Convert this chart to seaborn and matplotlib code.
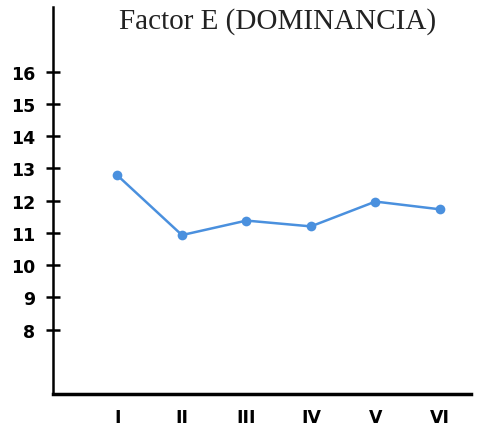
import matplotlib
matplotlib.use("Agg")
import matplotlib.pyplot as plt
import seaborn as sns
import pandas as pd

# Values
groups = ["I", "II", "III", "IV", "V", "VI"]
scores = [12.78, 10.93, 11.38, 11.2, 11.97, 11.73]
y_ticks = [8, 9, 10, 11, 12, 13, 14, 15, 16]

df = pd.DataFrame({"pos": range(1, len(groups) + 1), "group": groups, "score": scores})

sns.set_style("white")
plt.rcParams["font.family"] = ["DejaVu Sans"]

fig = plt.figure(figsize=(4.79, 4.31), dpi=100)
ax = fig.add_axes([0.1106, 0.0835, 0.8724, 0.8975])

sns.lineplot(data=df, x="pos", y="score", ax=ax, color="#4a90de",
             linewidth=1.8, marker="o", markersize=7, markeredgewidth=0)

ax.set_xlim(0, 6.48)
ax.set_ylim(6, 18)
ax.set_xticks(df["pos"])
ax.set_xticklabels(groups)
ax.set_yticks(y_ticks)
ax.set_xlabel("")
ax.set_ylabel("")

for side in ["top", "right"]:
    ax.spines[side].set_visible(False)
ax.spines["left"].set_linewidth(1.8)
ax.spines["bottom"].set_linewidth(2.5)
ax.spines["left"].set_color("black")
ax.spines["bottom"].set_color("black")

ax.tick_params(axis="y", direction="inout", length=10, width=1.8, pad=8,
               labelsize=12.5, colors="black", left=True)
ax.tick_params(axis="x", length=0, pad=10, labelsize=12.5, colors="black")
for lab in ax.get_xticklabels() + ax.get_yticklabels():
    lab.set_fontweight("bold")

fig.text(0.58, 0.95, "Factor E (DOMINANCIA)", ha="center", va="center",
         fontsize=21, family="Liberation Serif", color="#222222")

fig.savefig("out.png", dpi=100)
